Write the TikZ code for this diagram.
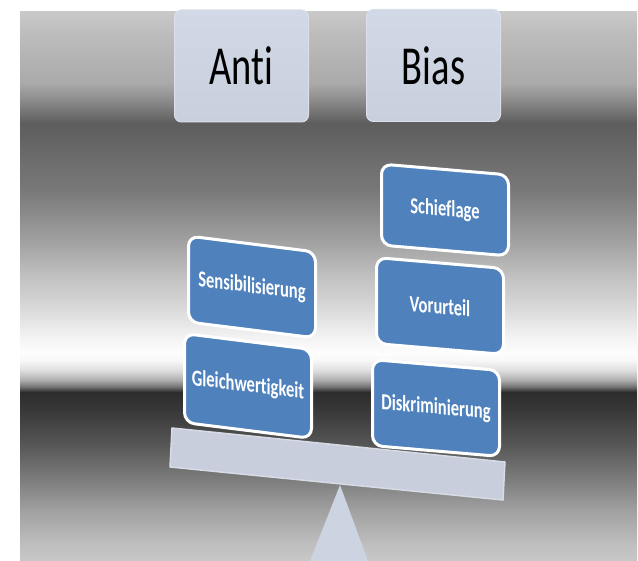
\documentclass[tikz,border=0pt]{standalone}
\usepackage{fontspec}
\setmainfont{Carlito}
\newfontfamily\headfont[FakeStretch=0.70,Ligatures=NoCommon]{Carlito}
\newfontfamily\tilefont[FakeStretch=0.72,Ligatures=NoCommon]{Carlito}
\usetikzlibrary{positioning}

\newcommand{\tilewidth}{127pt}
\newcommand{\tileheight}{86pt}
\newcommand{\titlewidth}{134pt}
\newcommand{\titleheight}{112pt}
\newcommand{\leftslant}{-0.125}
\newcommand{\rightslant}{-0.085}

\definecolor{tileblue}{HTML}{4F81BD}
\definecolor{headtop}{HTML}{D2D9E6}
\definecolor{headbot}{HTML}{C8CFDD}
\definecolor{headedge}{HTML}{DADFEA}
\definecolor{beamfill}{HTML}{C8CEDB}
\definecolor{beamedge}{HTML}{D6DBE6}
\definecolor{pivotfill}{HTML}{CCD3E1}

\pgfdeclareverticalshading{metal}{100bp}{%
  rgb(0bp)=(.784,.784,.784); rgb(25bp)=(.784,.784,.784);
  rgb(26.64bp)=(.745,.745,.745); rgb(29.65bp)=(.627,.627,.627);
  rgb(32.65bp)=(.478,.478,.478); rgb(35.75bp)=(.333,.333,.333);
  rgb(38.75bp)=(.220,.220,.220); rgb(40.39bp)=(.173,.173,.173);
  rgb(40.85bp)=(.439,.439,.439); rgb(41.49bp)=(.690,.690,.690);
  rgb(42.40bp)=(.878,.878,.878); rgb(43.31bp)=(.973,.973,.973);
  rgb(43.95bp)=(.992,.992,.992); rgb(45.13bp)=(.961,.961,.961);
  rgb(46.95bp)=(.894,.894,.894); rgb(49.05bp)=(.816,.816,.816);
  rgb(50.59bp)=(.769,.769,.769); rgb(54.24bp)=(.627,.627,.627);
  rgb(58.79bp)=(.471,.471,.471); rgb(60.89bp)=(.439,.439,.439);
  rgb(63.98bp)=(.380,.380,.380); rgb(64.89bp)=(.369,.369,.369);
  rgb(66.99bp)=(.549,.549,.549); rgb(68.54bp)=(.667,.667,.667);
  rgb(73.09bp)=(.741,.741,.741); rgb(75bp)=(.788,.788,.788);
  rgb(100bp)=(.788,.788,.788)}

\tikzstyle{head}=[shape=rectangle,rounded corners=7pt,draw=headedge,line width=1pt,
                  top color=headtop,bottom color=headbot,text=black,
                  minimum width=\titlewidth,minimum height=\titleheight,
                  font=\headfont\fontsize{55}{60}\selectfont]
\tikzstyle{tile}=[shape=rectangle,rounded corners=10pt,fill=tileblue,draw=white,
                  line width=3pt,text=white,transform shape,
                  minimum width=\tilewidth,minimum height=\tileheight,
                  font=\tilefont\bfseries\fontsize{23}{26}\selectfont]
\tikzstyle{beam}=[fill=beamfill,draw=beamedge,line width=1.5pt,line join=round]
\tikzstyle{pivot}=[fill=pivotfill,draw=none]

\begin{document}
\begin{tikzpicture}[x=1pt,y=1pt]
\useasboundingbox (0,0) rectangle (638,-561);
\shade[shading=metal] (20,-12) rectangle (637,-561);

\node [head] (anti) at (241.5,-66) {Anti};
\node [head] (bias) at (433.5,-65.5) {Bias};

\fill [pivot] (340,-485) -- (368,-561) -- (310,-561) -- cycle;
\draw [beam] (172,-428) -- (505,-462) -- (503,-500) -- (170,-467) -- cycle;

\begin{scope}[shift={(252,-287)},yslant=\leftslant]
\node [tile] (sens) at (0,0) {Sensibilisierung};
\end{scope}
\begin{scope}[shift={(248,-386)},yslant=\leftslant]
\node [tile, minimum height=89pt] (gleich) at (0,0) {Gleichwertigkeit};
\end{scope}

\begin{scope}[shift={(445,-210)},yslant=\rightslant]
\node [tile, minimum height=81pt] (schief) at (0,0) {Schieflage};
\end{scope}
\begin{scope}[shift={(440,-306)},yslant=\rightslant]
\node [tile] (vorurteil) at (0,0) {Vorurteil};
\end{scope}
\begin{scope}[shift={(436,-408)},yslant=\rightslant]
\node [tile] (diskr) at (0,0) {Diskriminierung};
\end{scope}
\end{tikzpicture}
\end{document}
